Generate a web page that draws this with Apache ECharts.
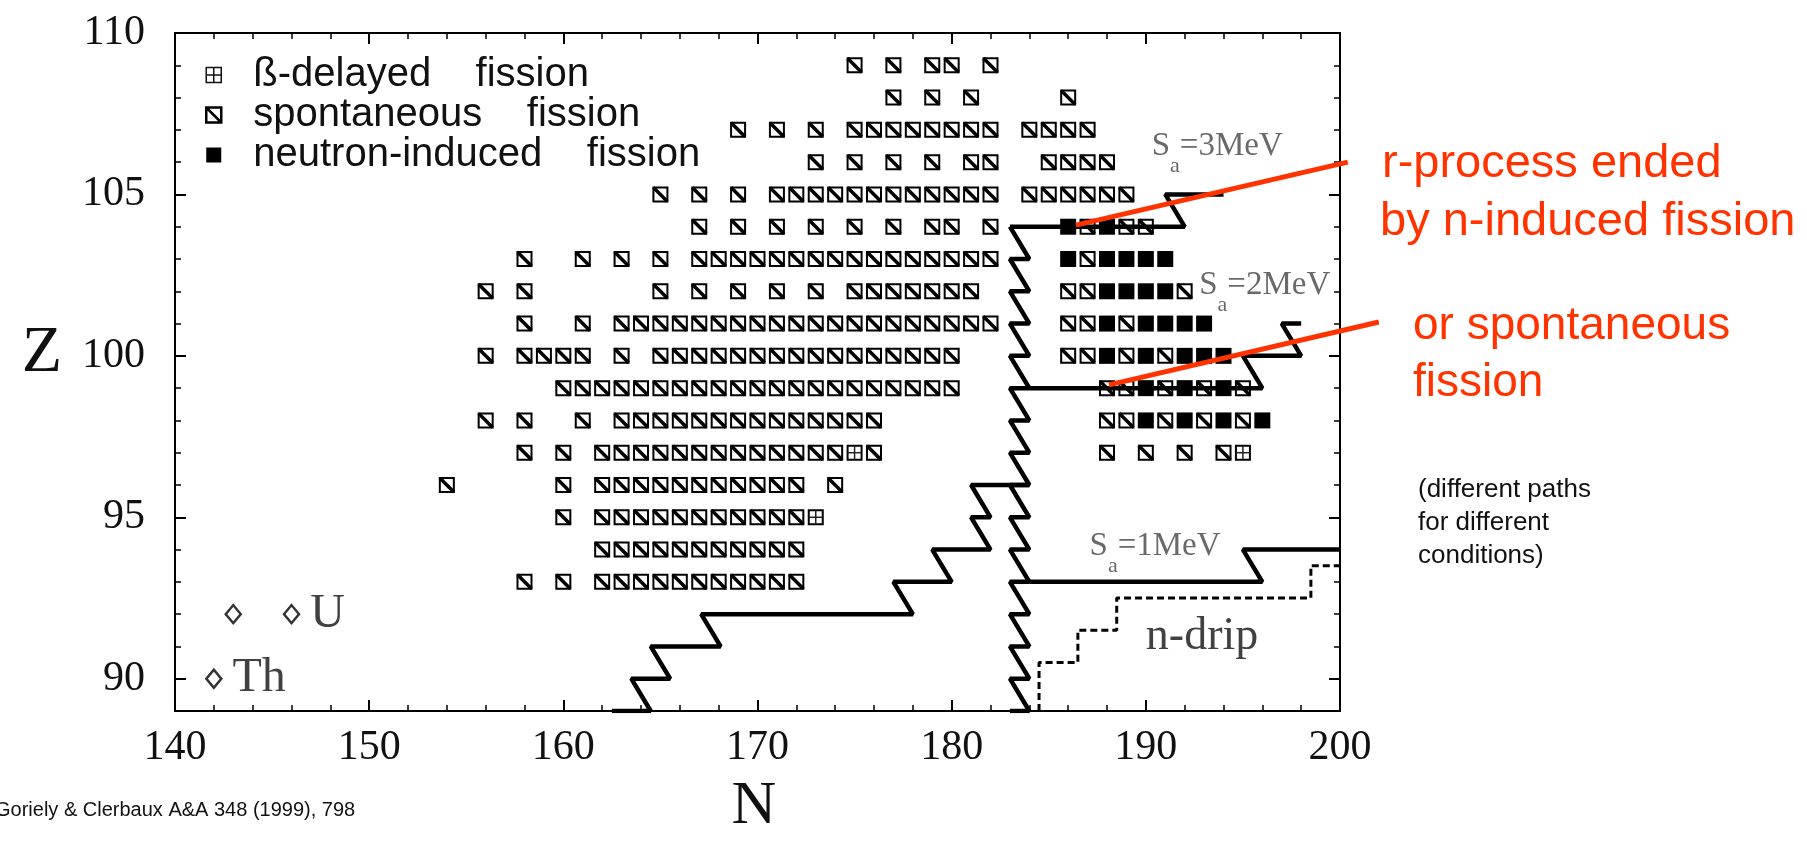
<!DOCTYPE html>
<html>
<head>
<meta charset="utf-8">
<title>r-process fission region</title>
<script src="https://cdn.jsdelivr.net/npm/echarts@6/dist/echarts.min.js"></script>
<style>
  html, body { margin: 0; padding: 0; background: #fff; }
  #chart { width: 1807px; height: 841px; }
</style>
</head>
<body>
<div id="chart"></div>
<script>
// nuclei by fission mode, one row per Z: [Z, [N, ...]]
const spontaneousFission = [
  [109, [175, 177, 179, 180, 182]],
  [108, [177, 179, 181, 186]],
  [107, [169, 171, 173, 175, 176, 177, 178, 179, 180, 181, 182, 184, 185, 186, 187]],
  [106, [173, 175, 177, 179, 181, 182, 185, 186, 187, 188]],
  [105, [165, 167, 169, 171, 172, 173, 174, 175, 176, 177, 178, 179, 180, 181, 182, 184, 185, 186, 187, 188, 189]],
  [104, [167, 169, 171, 173, 175, 177, 179, 180, 182, 187, 189, 190]],
  [103, [158, 161, 163, 165, 167, 168, 169, 170, 171, 172, 173, 174, 175, 176, 177, 178, 179, 180, 181, 182, 187]],
  [102, [156, 158, 165, 167, 169, 171, 173, 175, 176, 177, 178, 179, 180, 181, 186, 187, 192]],
  [101, [158, 161, 163, 164, 165, 166, 167, 168, 169, 170, 171, 172, 173, 174, 175, 176, 177, 178, 179, 180, 181, 182, 186, 187, 189]],
  [100, [156, 158, 159, 160, 161, 163, 165, 166, 167, 168, 169, 170, 171, 172, 173, 174, 175, 176, 177, 178, 179, 180, 186, 187, 189, 191]],
  [99, [160, 161, 162, 163, 164, 165, 166, 167, 168, 169, 170, 171, 172, 173, 174, 175, 176, 177, 178, 179, 180, 188, 189, 191, 193, 195]],
  [98, [156, 158, 161, 163, 164, 165, 166, 167, 168, 169, 170, 171, 172, 173, 174, 175, 176, 188, 189, 191, 193, 195]],
  [97, [158, 160, 162, 163, 164, 165, 166, 167, 168, 169, 170, 171, 172, 173, 174, 176, 188, 190, 192, 194]],
  [96, [154, 160, 162, 163, 164, 165, 166, 167, 168, 169, 170, 171, 172, 174]],
  [95, [160, 162, 163, 164, 165, 166, 167, 168, 169, 170, 171, 172]],
  [94, [162, 163, 164, 165, 166, 167, 168, 169, 170, 171, 172]],
  [93, [158, 160, 162, 163, 164, 165, 166, 167, 168, 169, 170, 171, 172]]
]
const neutronInducedFission = [
  [104, [186, 188]],
  [103, [186, 188, 189, 190, 191]],
  [102, [188, 189, 190, 191]],
  [101, [188, 190, 191, 192, 193]],
  [100, [188, 190, 192, 193, 194]],
  [99, [190, 192, 194]],
  [98, [190, 192, 194, 196]]
]
const betaDelayedFission = [
  [97, [175, 195]],
  [95, [173]]
]

// r-process paths [N, Z]
const pathCentral = [
  [183, 89], [184, 89], [183, 90], [184, 90], [183, 91], [184, 91], [183, 92], [184, 92],
  [183, 93], [184, 93], [183, 94], [184, 94], [183, 95], [184, 95], [183, 96], [184, 96],
  [183, 97], [184, 97], [183, 98], [184, 98], [183, 99], [184, 99], [183, 100], [184, 100],
  [183, 101], [184, 101], [183, 102], [184, 102], [183, 103], [184, 103], [183, 104]
]
const pathLeft = [
  [162.5, 89], [164.5, 89], [163.5, 90], [165.5, 90], [164.5, 91], [168.1, 91], [167.1, 92],
  [178, 92], [177, 93], [180, 93], [179, 94], [182, 94], [181, 95], [182, 95], [181, 96], [184, 96]
]
const pathSa3 = [[183, 104], [192, 104], [191, 105], [194, 105]]
const pathSa2 = [[184, 99], [196, 99], [195, 100], [198, 100], [197, 101], [198, 101]]
const pathSa1 = [[184, 93], [196, 93], [195, 94], [200, 94]]
const neutronDrip = [
  [184.5, 89], [184.5, 90.5], [186.5, 90.5], [186.5, 91.5], [188.5, 91.5],
  [188.5, 92.5], [198.5, 92.5], [198.5, 93.5], [200, 93.5]
]

const thorium = [[142, 90]]
const uranium = [[143, 92], [146, 92]]

// pointer lines to the annotations, [N, Z] at both ends
const pointerInduced = [[186.4, 104.05], [200.4, 106.0]]
const pointerSpontaneous = [[188.1, 99.1], [202.0, 101.05]]

const yMajorTicks = [90, 95, 100, 105, 110]
const saLabels = ['3MeV', '2MeV', '1MeV']
const saLabelAt = [[190.3, 106.5], [192.75, 102.2], [187.1, 94.1]]
const dripLabelAt = [190.0, 91.3]

function flatten (rows) {
  const out = []
  rows.forEach(function (r) {
    r[1].forEach(function (n) { out.push([n, r[0]]) })
  })
  return out
}

const SQ = 16
function squareItem (kind) {
  return function (params, api) {
    const p = api.coord([api.value(0), api.value(1)])
    const x = p[0] - SQ / 2
    const y = p[1] - SQ / 2
    if (kind === 'n') {
      return { type: 'rect', shape: { x: x, y: y, width: SQ, height: SQ }, style: { fill: '#000' } }
    }
    const children = [{
      type: 'rect',
      shape: { x: x + 1, y: y + 1, width: SQ - 2, height: SQ - 2 },
      style: { fill: '#fff', stroke: '#000', lineWidth: 2 }
    }]
    if (kind === 's') {
      children.push({ type: 'line', shape: { x1: x + 1, y1: y + 1, x2: x + SQ - 1, y2: y + SQ - 1 }, style: { stroke: '#000', lineWidth: 3.5 } })
    } else {
      children.push({ type: 'line', shape: { x1: p[0], y1: y + 1, x2: p[0], y2: y + SQ - 1 }, style: { stroke: '#222', lineWidth: 1.5 } })
      children.push({ type: 'line', shape: { x1: x + 1, y1: p[1], x2: x + SQ - 1, y2: p[1] }, style: { stroke: '#222', lineWidth: 1.5 } })
    }
    return { type: 'group', children: children }
  }
}

function pathSeries (data, dashed) {
  return {
    type: 'line',
    data: data,
    symbol: 'none',
    silent: true,
    z: 4,
    lineStyle: { color: '#000', width: dashed ? 3 : 4.5, type: dashed ? [7, 4] : 'solid' }
  }
}

const serif = 'Liberation Serif, Times New Roman, serif'
const sans = 'Liberation Sans, Arial, sans-serif'
const red = '#ff3300'
const axisCommon = {
  type: 'value',
  axisLine: { onZero: false, lineStyle: { color: '#000', width: 2 } },
  splitLine: { show: false }
}

const chart = echarts.init(document.getElementById('chart'))
chart.setOption({
  animation: false,
  backgroundColor: '#fff',
  grid: { left: 175, right: 467, top: 33, bottom: 130 },
  legend: {
    orient: 'vertical',
    left: 200,
    top: 50,
    itemWidth: 15,
    itemHeight: 15,
    itemGap: 0,
    selectedMode: false,
    formatter: function (name) { return name.replace(' ', '    ') },
    textStyle: { fontFamily: sans, fontSize: 40, color: '#111', lineHeight: 40, padding: [0, 0, 0, 27] },
    data: [
      { name: 'ß-delayed fission', icon: 'path://M0,0H20V20H0Z M10,0V20 M0,10H20', itemStyle: { color: '#fff', borderColor: '#111', borderWidth: 1.5 } },
      { name: 'spontaneous fission', icon: 'path://M0,0H20V20H0Z M0,0L20,20', itemStyle: { color: '#fff', borderColor: '#000', borderWidth: 2.5 } },
      { name: 'neutron-induced fission', icon: 'rect', itemStyle: { color: '#000' } }
    ]
  },
  xAxis: [
    Object.assign({}, axisCommon, {
      min: 140, max: 200, interval: 10, position: 'bottom',
      axisTick: { inside: true, length: 11, lineStyle: { color: '#000', width: 2 } },
      minorTick: { show: true, splitNumber: 5, length: 6, lineStyle: { color: '#000', width: 1.5 } },
      axisLabel: { fontFamily: serif, fontSize: 42, color: '#111', margin: 16 }
    }),
    Object.assign({}, axisCommon, {
      min: 140, max: 200, interval: 10, position: 'top',
      axisTick: { inside: true, length: 11, lineStyle: { color: '#000', width: 2 } },
      minorTick: { show: true, splitNumber: 5, length: 6, lineStyle: { color: '#000', width: 1.5 } },
      axisLabel: { show: false }
    })
  ],
  yAxis: [
    Object.assign({}, axisCommon, {
      min: 89, max: 110, interval: 1, position: 'left',
      axisTick: { inside: true, length: 11, customValues: yMajorTicks, lineStyle: { color: '#000', width: 2 } },
      axisLabel: {
        customValues: yMajorTicks,
        formatter: function (v) { return yMajorTicks.indexOf(v) >= 0 ? String(v) : '' },
        fontFamily: serif, fontSize: 42, color: '#111', margin: 30
      }
    }),
    Object.assign({}, axisCommon, {
      min: 89, max: 110, interval: 1, position: 'left',
      axisLine: { show: false },
      axisTick: { inside: true, length: 6, lineStyle: { color: '#000', width: 1.5 } },
      axisLabel: { show: false }
    }),
    Object.assign({}, axisCommon, {
      min: 89, max: 110, interval: 1, position: 'right',
      axisTick: { inside: true, length: 11, customValues: yMajorTicks, lineStyle: { color: '#000', width: 2 } },
      axisLabel: { show: false }
    }),
    Object.assign({}, axisCommon, {
      min: 89, max: 110, interval: 1, position: 'right',
      axisLine: { show: false },
      axisTick: { inside: true, length: 6, lineStyle: { color: '#000', width: 1.5 } },
      axisLabel: { show: false }
    })
  ],
  series: [
    { type: 'custom', name: 'spontaneous fission', renderItem: squareItem('s'), data: flatten(spontaneousFission), encode: { x: 0, y: 1 }, z: 3, silent: true },
    { type: 'custom', name: 'neutron-induced fission', renderItem: squareItem('n'), data: flatten(neutronInducedFission), encode: { x: 0, y: 1 }, z: 3, silent: true },
    { type: 'custom', name: 'ß-delayed fission', renderItem: squareItem('b'), data: flatten(betaDelayedFission), encode: { x: 0, y: 1 }, z: 3, silent: true },
    pathSeries(pathCentral),
    pathSeries(pathLeft),
    pathSeries(pathSa3),
    pathSeries(pathSa2),
    pathSeries(pathSa1),
    pathSeries(neutronDrip, true),
    {
      type: 'scatter',
      data: thorium.map(function (d) { return { value: d, label: { show: true, formatter: 'Th' } } })
        .concat(uranium.map(function (d, i) { return { value: d, label: { show: i === uranium.length - 1, formatter: 'U' } } })),
      symbol: 'diamond',
      symbolSize: [15, 18],
      silent: true,
      z: 5,
      itemStyle: { color: '#fff', borderColor: '#000', borderWidth: 2.5 },
      label: { position: 'right', distance: 10, fontFamily: serif, fontSize: 48, color: '#111' }
    },
    {
      type: 'scatter',
      data: saLabelAt.map(function (p, i) { return { value: p, name: saLabels[i] } }),
      symbolSize: 0,
      silent: true,
      z: 6,
      label: {
        show: true,
        position: 'right',
        distance: 0,
        formatter: function (p) { return '{s|S}{a|a}{s|=' + p.name + '}' },
        rich: {
          s: { fontFamily: serif, fontSize: 33, color: '#444' },
          a: { fontFamily: serif, fontSize: 22, color: '#444', padding: [40, 0, 0, 0] }
        }
      }
    },
    {
      type: 'scatter',
      data: [dripLabelAt],
      symbolSize: 0,
      silent: true,
      z: 6,
      label: { show: true, position: 'right', distance: 0, formatter: 'n-drip', fontFamily: serif, fontSize: 46, color: '#111' }
    }
  ]
})

// pointer lines run past the frame, so place them with the chart's own scales
function pointer (pts) {
  const a = chart.convertToPixel({ gridIndex: 0 }, pts[0])
  const b = chart.convertToPixel({ gridIndex: 0 }, pts[1])
  return { type: 'line', z: 20, shape: { x1: a[0], y1: a[1], x2: b[0], y2: b[1] }, style: { stroke: red, lineWidth: 5 } }
}

chart.setOption({
  graphic: [
    pointer(pointerInduced),
    pointer(pointerSpontaneous),
    { type: 'text', style: { x: 42, y: 354, text: 'Z', font: '66px ' + serif, fill: '#111', align: 'center', verticalAlign: 'middle' } },
    { type: 'text', style: { x: 754, y: 807, text: 'N', font: '62px ' + serif, fill: '#111', align: 'center', verticalAlign: 'middle' } },
    { type: 'text', style: { x: -5, y: 810, text: 'Goriely & Clerbaux A&A 348 (1999), 798', font: '20px ' + sans, fill: '#111', verticalAlign: 'middle' } },
    { type: 'text', style: { x: 1382, y: 164, text: 'r-process ended', font: '47px ' + sans, fill: red, verticalAlign: 'middle' } },
    { type: 'text', style: { x: 1380, y: 222, text: 'by n-induced fission', font: '47px ' + sans, fill: red, verticalAlign: 'middle' } },
    { type: 'text', style: { x: 1413, y: 326, text: 'or spontaneous', font: '46px ' + sans, fill: red, verticalAlign: 'middle' } },
    { type: 'text', style: { x: 1413, y: 383, text: 'fission', font: '46px ' + sans, fill: red, verticalAlign: 'middle' } },
    { type: 'text', style: { x: 1418, y: 473, text: '(different paths\nfor different\nconditions)', font: '26px ' + sans, fill: '#111', verticalAlign: 'top', lineHeight: 33 } }
  ]
})
</script>
</body>
</html>
